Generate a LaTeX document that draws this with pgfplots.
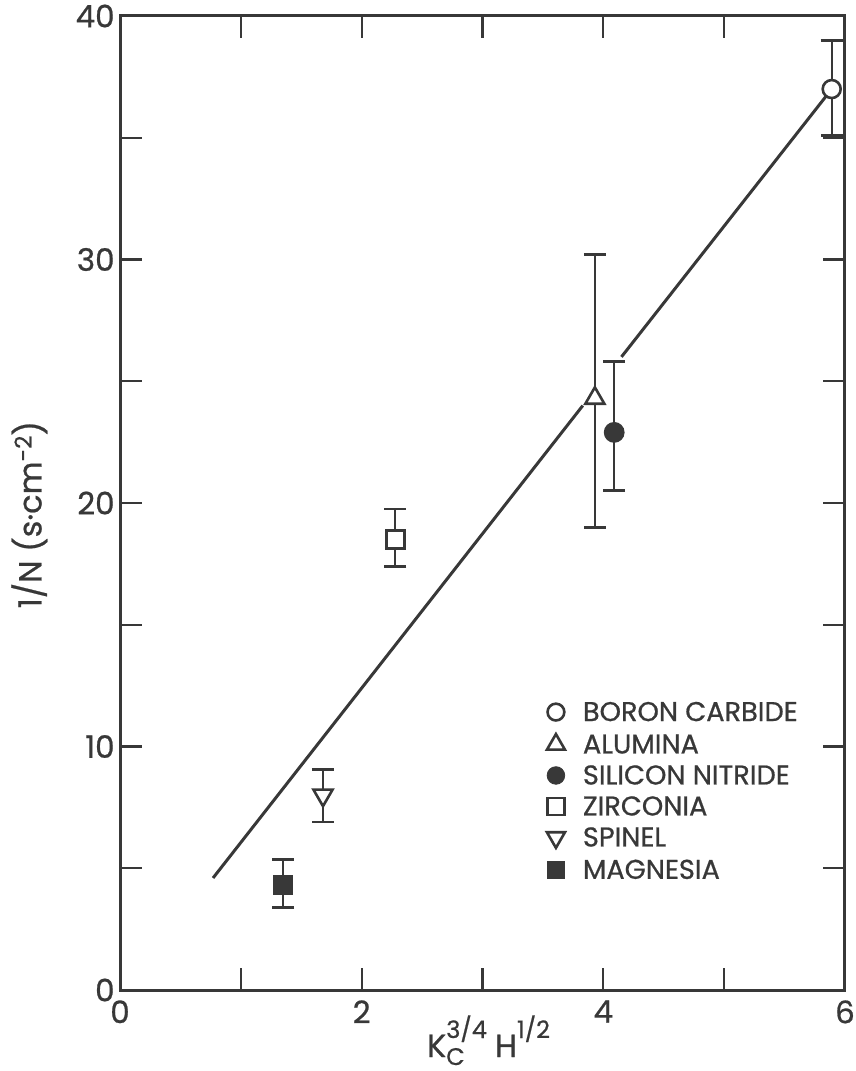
\documentclass[border=0pt]{standalone}
\usepackage{fontspec}
\setmainfont{Poppins}[FakeBold=0.7]
\usepackage{pgfplots}
\pgfplotsset{compat=1.18}
\definecolor{ink}{gray}{0.22}
\newcommand{\sfs}{\fontsize{12}{12}\selectfont}
\pgfplotsset{
  eb/.style={error bars/y dir=both, error bars/y explicit,
    error bars/error bar style={line width=1pt, ink},
    error bars/error mark options={mark size=5.5pt, line width=1.4pt, ink, rotate=90}},
}

\begin{document}
\begin{tikzpicture}
\begin{axis}[
  at={(0,0)}, anchor=south west,
  scale only axis, width=362.5pt, height=487pt,
  xmin=0, xmax=6, ymin=0, ymax=40,
  axis line style={line width=1.5pt, ink},
  xtick={0,1,...,6}, xticklabels={0,,2,,4,,6},
  ytick={0,5,...,40}, yticklabels={0,,10,,20,,30,,40},
  tick align=inside, tick pos=both,
  major tick length=11pt,
  every tick/.style={line width=1.1pt, ink},
  tick label style={font=\fontsize{15.5}{18}\selectfont, text=ink},
  xticklabel style={inner sep=0pt, yshift=-5pt},
  yticklabel style={inner sep=0pt, xshift=-2.5pt},
  xlabel={K\rlap{\raisebox{-4pt}{\sfs C}}\raisebox{9.5pt}{\sfs 3/4}\hspace{4pt}H\raisebox{9.5pt}{\sfs 1/2}},
  xlabel style={at={(axis cs:3.05,0)}, anchor=base, inner sep=0pt, yshift=-33.5pt, font=\fontsize{16}{18}\selectfont, text=ink},
  ylabel={1/N (s·cm\raisebox{5pt}{\fontsize{11.5}{12}\selectfont -2})},
  ylabel style={at={(axis description cs:-0.125,0.488)}, anchor=center, inner sep=0pt, font=\fontsize{16}{18}\selectfont, text=ink},
  legend style={at={(axis cs:3.53,11.8)}, anchor=north west, draw=none, fill=none,
    inner sep=0pt, row sep=6.5pt, column sep=9pt,
    font=\fontsize{13.6}{15}\selectfont, text=ink,
    nodes={inner sep=0pt, text height=9pt, text depth=0pt}},
  legend cell align=left,
  legend image code/.code={\draw[#1] plot coordinates {(0pt,0pt)};},
]
% trend line (two segments)
\addplot[ink, line width=1.5pt, forget plot] coordinates {(0.77,4.6) (3.83,24.0)};
\addplot[ink, line width=1.5pt, forget plot] coordinates {(4.15,26.0) (5.89,37.0)};

% Boron carbide
\addplot[only marks, forget plot, mark=*, mark size=4.5pt, mark options={fill=white, draw=ink, line width=1.3pt}, eb]
  coordinates {(5.89,37.0) += (0,2.0) -= (0,1.9)};
% Alumina
\addplot[only marks, forget plot, mark=triangle*, mark size=5.5pt, mark options={fill=white, draw=ink, line width=1.3pt}, eb]
  coordinates {(3.93,24.3) += (0,5.9) -= (0,5.3)};
% Silicon nitride
\addplot[only marks, forget plot, mark=*, mark size=4.7pt, mark options={fill=ink, draw=ink, line width=1pt}, eb]
  coordinates {(4.09,22.9) += (0,2.9) -= (0,2.4)};
% Zirconia
\addplot[only marks, forget plot, mark=square*, mark size=4.5pt, mark options={fill=white, draw=ink, line width=1.3pt}, eb]
  coordinates {(2.28,18.5) += (0,1.25) -= (0,1.1)};
% Spinel
\addplot[only marks, forget plot, mark=triangle*, mark size=5.5pt, mark options={fill=white, draw=ink, line width=1.3pt, rotate=180}, eb]
  coordinates {(1.68,8.0) += (0,1.05) -= (0,1.1)};
% Magnesia
\addplot[only marks, forget plot, mark=square*, mark size=4.5pt, mark options={fill=ink, draw=ink, line width=1pt}, eb]
  coordinates {(1.35,4.3) += (0,1.05) -= (0,0.9)};

\addlegendimage{only marks, mark=*, mark size=4.2pt, mark options={fill=white, draw=ink, line width=1.3pt}}
\addlegendimage{only marks, mark=triangle*, mark size=5.2pt, mark options={fill=white, draw=ink, line width=1.3pt}}
\addlegendimage{only marks, mark=*, mark size=4.4pt, mark options={fill=ink, draw=ink}}
\addlegendimage{only marks, mark=square*, mark size=4.2pt, mark options={fill=white, draw=ink, line width=1.3pt}}
\addlegendimage{only marks, mark=triangle*, mark size=5.2pt, mark options={fill=white, draw=ink, line width=1.3pt, rotate=180}}
\addlegendimage{only marks, mark=square*, mark size=4.2pt, mark options={fill=ink, draw=ink}}
\legend{BORON CARBIDE, ALUMINA, SILICON NITRIDE, ZIRCONIA, SPINEL, MAGNESIA}
\end{axis}
\pgfresetboundingbox
\path[use as bounding box] (-60pt,-40.5pt) rectangle (368pt,495pt);
\end{tikzpicture}
\end{document}
